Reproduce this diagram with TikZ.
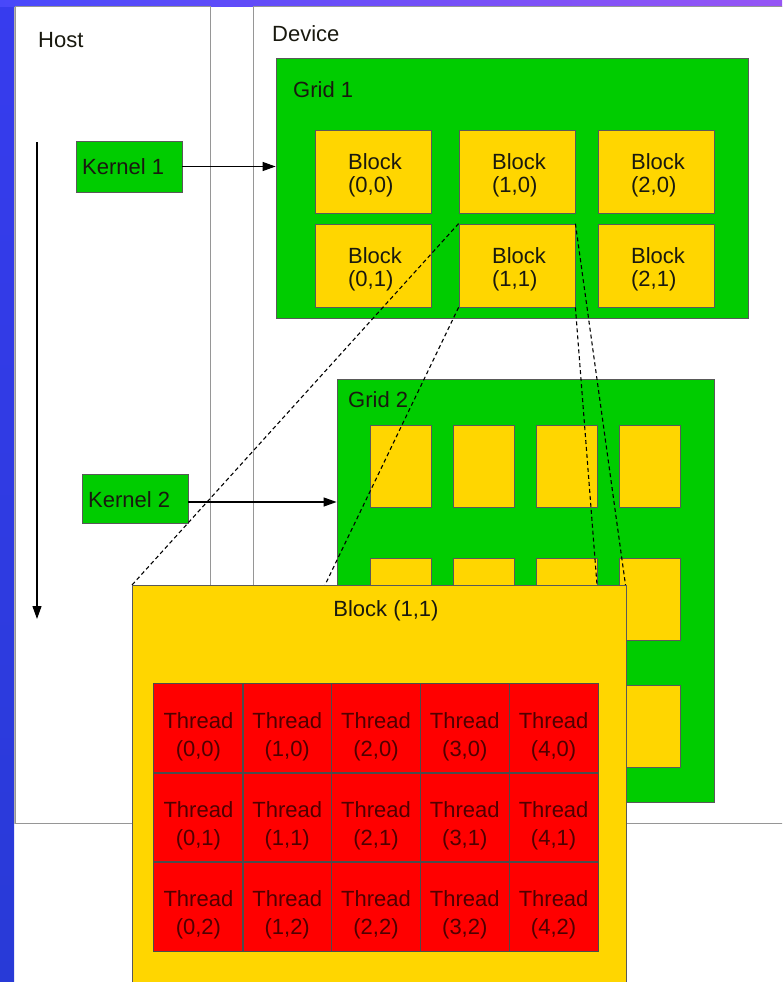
\documentclass[tikz,border=0pt]{standalone}
\usepackage{fontspec}
\setmainfont{Liberation Sans}
\usetikzlibrary{arrows.meta}
\definecolor{gridgreen}{RGB}{0,204,0}
\definecolor{blockyellow}{RGB}{255,214,0}
\definecolor{threadred}{RGB}{255,0,0}
\definecolor{framegray}{RGB}{150,150,150}
\definecolor{striptop}{RGB}{55,60,238}
\definecolor{stripbottom}{RGB}{40,58,215}
\definecolor{topleft}{RGB}{72,72,250}
\definecolor{topright}{RGB}{150,85,245}
\definecolor{darktext}{RGB}{25,25,15}
\definecolor{threadtext}{RGB}{80,0,0}
\tikzset{
  panel/.style={draw=framegray, line width=1pt, fill=white, inner sep=0pt},
  greenbox/.style={draw=black!65, line width=0.8pt, fill=gridgreen, inner sep=0pt},
  yellowbox/.style={draw=black!65, line width=0.8pt, fill=blockyellow, inner sep=0pt},
  threadcell/.style={fill=threadred, inner sep=0pt,
    minimum width=88.8pt, minimum height=89pt},
  threadlbl/.style={inner sep=0pt, text=threadtext, align=center,
    font=\fontsize{22}{28}\selectfont},
  celledge/.style={draw=black!70, line width=0.8pt},
  lbl/.style={inner sep=0pt, text=darktext, font=\fontsize{22}{23}\selectfont},
  blocklbl/.style={inner sep=0pt, text=darktext, align=left, font=\fontsize{22}{23}\selectfont},
  kernelarrow/.style={line width=1.2pt, -{Triangle[length=13pt,width=9pt]}},
  zoomline/.style={line width=1.1pt, dash pattern=on 4pt off 3pt},
}
\begin{document}
\begin{tikzpicture}[x=1pt,y=-1pt]
\useasboundingbox (0,0) rectangle (782,982);
\clip (0,0) rectangle (782,982);
% background
\fill[white] (0,0) rectangle (782,982);
\shade[top color=striptop, bottom color=stripbottom] (0,7) rectangle (14,982);
\shade[left color=topleft, right color=topright] (0,0) rectangle (782,7);
% frame bottom line
\draw[black!30, line width=2pt] (14,823) -- (782,823);
\draw[black!30, line width=1.5pt] (14.5,7) -- (14.5,823);
% Host and Device panels
\node[panel, minimum width=195pt, minimum height=816pt] (host) at (112.5,415) {};
\node[panel, minimum width=547pt, minimum height=816pt] (device) at (526.5,415) {};
\node[lbl, anchor=west] (hostlabel) at (38,40) {Host};
\node[lbl, anchor=west] (devicelabel) at (272,34) {Device};
% time arrow
\coordinate (tstart) at (37,142);
\coordinate (tend) at (37,619);
\draw[kernelarrow] (tstart) -- (tend);
% Kernels
\node[greenbox, minimum width=106pt, minimum height=51pt] (k1) at (129,166.5) {};
\node[lbl, anchor=west] (k1label) at (82,166.5) {Kernel 1};
\node[greenbox, minimum width=106pt, minimum height=49pt] (k2) at (135,498.5) {};
\node[lbl, anchor=west] (k2label) at (88,500) {Kernel 2};
% Grid 1
\node[greenbox, minimum width=472pt, minimum height=260pt] (g1) at (512,188) {};
\node[lbl, anchor=west] (g1label) at (293,90) {Grid 1};
\foreach \c/\cx in {0/373,1/517,2/656}{
  \foreach \r/\cy in {0/171.5,1/265.5}{
    \node[yellowbox, minimum width=116pt, minimum height=83pt] (b\c\r) at (\cx,\cy) {};
    \node[blocklbl] (bl\c\r) at (\cx+2,\cy+4) {Block\\(\c,\r)};
  }
}
% Grid 2
\node[greenbox, minimum width=377pt, minimum height=423pt] (g2) at (525.5,590.5) {};
\node[lbl, anchor=west] (g2label) at (348,400) {Grid 2};
\foreach \c/\cx in {0/401,1/484,2/567,3/650}{
  \foreach \r/\cy in {0/466,1/599,2/726.5}{
    \node[yellowbox, minimum width=61pt, minimum height=82pt] (s\c\r) at (\cx,\cy) {};
  }
}
% kernel arrows
\draw[kernelarrow] (k1.east) -- (k1.east -| g1.west);
\draw[kernelarrow] ([yshift=-3.5pt]k2.east) -- ([yshift=-3.5pt]k2.east -| g2.west);
% zoom lines
\coordinate (z1) at (132,585);
\coordinate (z2) at (325,585);
\coordinate (z3) at (597,585);
\coordinate (z4) at (625.5,585);
\draw[zoomline] (b11.north west) -- (z1);
\draw[zoomline] (b11.south west) -- (z2);
\draw[zoomline] (b11.south east) -- (z3);
\draw[zoomline] (b11.north east) -- (z4);
% Big block
\node[yellowbox, minimum width=494pt, minimum height=410pt, anchor=north west] (big) at (132,585) {};
\node[lbl] (biglabel) at (386,611) {Block (1,1)};
\foreach \c in {0,...,4}{
  \foreach \r in {0,1,2}{
    \node[threadcell] (t\c\r) at ({154+44.4+88.8*\c},{728.5+89*\r}) {};
  }
}
\foreach \c in {0,...,4}{
  \foreach \r in {0,1,2}{
    \draw[celledge] (t\c\r.north west) rectangle (t\c\r.south east);
    \node[threadlbl] (tl\c\r) at ([yshift=-8pt]t\c\r.center) {Thread\\(\c,\r)};
  }
}
\end{tikzpicture}
\end{document}
